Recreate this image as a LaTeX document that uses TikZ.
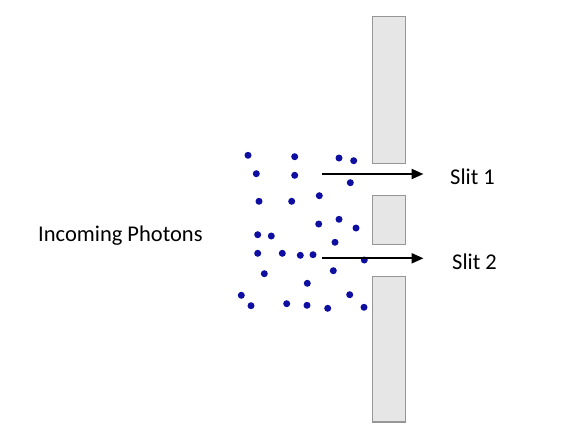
\documentclass[tikz,border=0pt]{standalone}
\usepackage{fontspec}
\setmainfont{Carlito}
\usetikzlibrary{arrows.meta}
\definecolor{barfill}{RGB}{230,230,230}
\definecolor{bardraw}{RGB}{150,150,150}
\definecolor{photon}{RGB}{14,14,160}
\begin{document}
\begin{tikzpicture}[x=1pt,y=-1pt,
  bar/.style={draw=bardraw,fill=barfill,line width=1.2pt},
  dot/.style={circle,fill=photon,inner sep=0pt,minimum size=7pt},
  ray/.style={line width=2.2pt,-{Triangle[length=12pt,width=10pt]}},
  lbl/.style={font=\fontsize{22.5}{26}\selectfont,inner sep=0pt}]
\useasboundingbox (0,0) rectangle (562,447);
\fill[white] (0,0) rectangle (562,447);
\draw[bar] (372.7,16.7) rectangle (405.7,163.3);
\draw[bar] (372.7,195.7) rectangle (405.7,244.3);
\draw[bar] (372.7,276.7) rectangle (405.7,422);
\foreach \x/\y [count=\i] in {248/155.3,294.7/156.7,339/158,353.7/160.7,256.3/173.7,294.7/175.3,350.3/182.7,259/201.3,291.7/201.3,319.3/195.7,318.7/224,339/219.3,356/228,257.7/234.7,271.3/236,335/242.3,257.7/253.3,282.3/253.3,300.3/255.3,313/254.7,364.3/260,264.3/273.7,333.3/270.7,307.3/283.3,241.3/295.3,349.7/294.7,251/305.7,286.7/303.7,307/305.3,327.7/308.3,364/307.3}
  \node[dot] (p\i) at (\x,\y) {};
\coordinate (s1a) at (322,174);
\coordinate (s1b) at (423.5,174);
\coordinate (s2a) at (322,258.3);
\coordinate (s2b) at (423.5,258.3);
\draw[ray] (s1a) -- (s1b);
\draw[ray] (s2a) -- (s2b);
\node[lbl,anchor=west] (l1) at (450,177) {Slit 1};
\node[lbl,anchor=west] (l2) at (452,262) {Slit 2};
\node[lbl,anchor=west] (inc) at (38,236) {Incoming Photons};
\end{tikzpicture}
\end{document}
